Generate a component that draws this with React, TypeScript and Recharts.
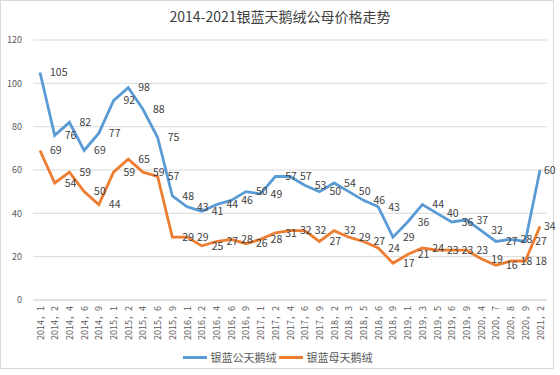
import { CartesianGrid, Legend, Line, LineChart, XAxis, YAxis } from "recharts";

const categories = [
  "2014，1", "2014，2", "2014，4", "2014，6", "2014，9",
  "2015，1", "2015，2", "2015，4", "2015，6", "2015，9",
  "2016，1", "2016，2", "2016，4", "2016，6", "2016，9",
  "2017，1", "2017，2", "2017，4", "2017，6", "2017，9",
  "2018，2", "2018，3", "2018，5", "2018，6", "2018，9",
  "2019，1", "2019，3", "2019，5", "2019，6", "2019，9",
  "2020，4", "2020，7", "2020，8", "2020，9", "2021，2",
];

// 银蓝公天鹅绒
const gongPrices = [
  105, 76, 82, 69, 77, 92, 98, 88, 75, 48,
  43, 41, 44, 46, 50, 49, 57, 57, 53, 50,
  54, 50, 46, 43, 29, 36, 44, 40, 36, 37,
  32, 27, 28, 27, 60,
];

// 银蓝母天鹅绒
const muPrices = [
  69, 54, 59, 50, 44, 59, 65, 59, 57, 29,
  29, 25, 27, 28, 26, 28, 31, 32, 32, 27,
  32, 29, 27, 24, 17, 21, 24, 23, 23, 23,
  19, 16, 18, 18, 34,
];

const yTicks = [0, 20, 40, 60, 80, 100, 120];

const BLUE = "#5B9BD5";
const ORANGE = "#ED7D31";
const FONT = "'Noto Sans CJK SC', 'Noto Sans', sans-serif";

const data = categories.map((name, i) => ({ name, gong: gongPrices[i], mu: muPrices[i] }));

function XTick(props: any) {
  const { x, y, payload } = props;
  return (
    <text
      x={x}
      y={y - 2}
      transform={`rotate(-90 ${x} ${y - 2})`}
      textAnchor="end"
      dominantBaseline="central"
      fontSize={9}
      fill="#595959"
      fontFamily={FONT}
    >
      {payload.value}
    </text>
  );
}

function renderLabel(props: any) {
  const x = props.x ?? props.viewBox?.x;
  const y = props.y ?? props.viewBox?.y;
  const last = props.index === categories.length - 1;
  return (
    <text
      key={`lbl-${props.index}-${y}`}
      x={x + (last ? 4 : 10)}
      y={y}
      dy="0.35em"
      fontSize={10.5}
      fill="#404040"
      fontFamily={FONT}
    >
      {props.value}
    </text>
  );
}

function LegendBox() {
  const item = (color: string, text: string) => (
    <span style={{ display: "inline-flex", alignItems: "center", marginRight: 2 }}>
      <span style={{ display: "inline-block", width: 24, height: 3, background: color, marginRight: 4 }} />
      <span>{text}</span>
    </span>
  );
  return (
    <div
      style={{
        display: "flex",
        justifyContent: "center",
        alignItems: "center",
        height: 20,
        paddingLeft: 10,
        fontSize: 11,
        color: "#595959",
        fontFamily: FONT,
      }}
    >
      {item(BLUE, "银蓝公天鹅绒")}
      {item(ORANGE, "银蓝母天鹅绒")}
    </div>
  );
}

export default function App() {
  return (
    <div
      style={{
        position: "absolute",
        left: 0,
        top: 0,
        width: 560,
        height: 375,
        background: "#fff",
        fontFamily: FONT,
      }}
    >
      <div
        style={{
          position: "absolute",
          left: 0,
          top: 0,
          width: 552,
          height: 367,
          border: "1px solid #D9D9D9",
        }}
      />
      <div
        style={{
          position: "absolute",
          top: 6,
          left: 0,
          width: 560,
          textAlign: "center",
          fontSize: 14,
          color: "#404040",
        }}
      >
        2014-2021银蓝天鹅绒公母价格走势
      </div>
      <LineChart width={560} height={375} data={data} margin={{ top: 40, right: 13, bottom: 8, left: 0 }}>
        <CartesianGrid vertical={false} stroke="#D9D9D9" />
        <XAxis
          dataKey="name"
          interval={0}
          height={47}
          padding={{ left: 7, right: 7 }}
          tickLine={false}
          axisLine={{ stroke: "#D9D9D9" }}
          tick={<XTick />}
        />
        <YAxis
          width={33}
          domain={[0, 120]}
          ticks={yTicks}
          axisLine={false}
          tickLine={false}
          tickMargin={5}
          tick={{ fontSize: 9, fill: "#595959", fontFamily: FONT }}
        />
        <Legend verticalAlign="bottom" content={() => <LegendBox />} />
        <Line
          dataKey="gong"
          name="银蓝公天鹅绒"
          stroke={BLUE}
          strokeWidth={2.8}
          dot={false}
          isAnimationActive={false}
          label={renderLabel}
        />
        <Line
          dataKey="mu"
          name="银蓝母天鹅绒"
          stroke={ORANGE}
          strokeWidth={2.8}
          dot={false}
          isAnimationActive={false}
          label={renderLabel}
        />
      </LineChart>
    </div>
  );
}
